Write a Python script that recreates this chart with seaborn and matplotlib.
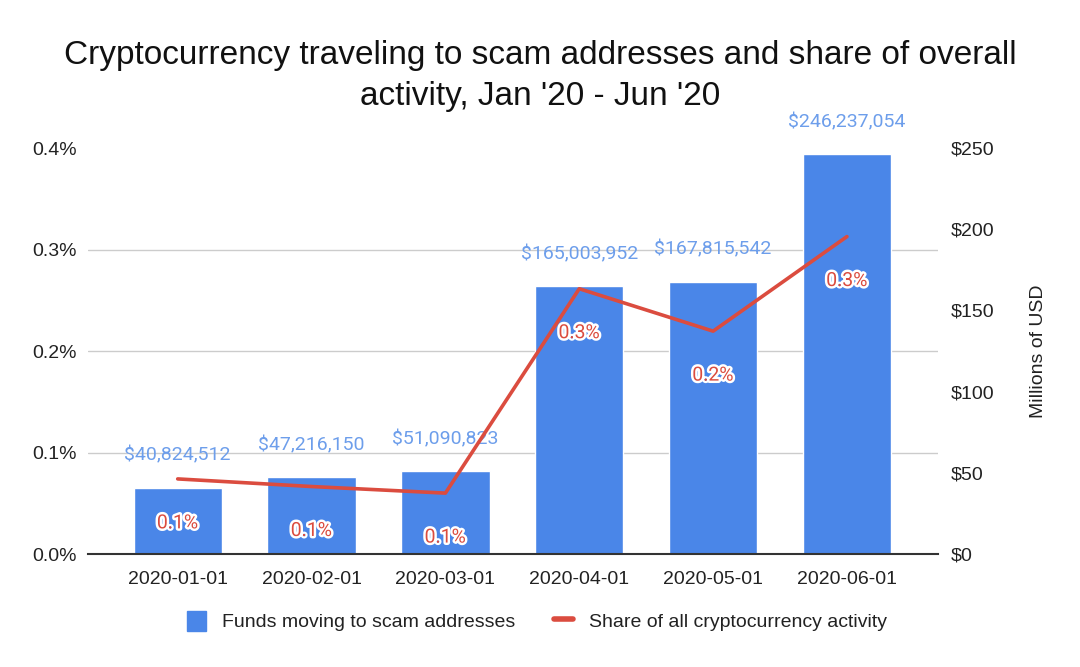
import matplotlib
matplotlib.use("Agg")
import matplotlib.pyplot as plt
import matplotlib.patheffects as pe
from matplotlib.patches import Patch
from matplotlib.lines import Line2D
from matplotlib.ticker import FuncFormatter, MultipleLocator
import seaborn as sns
import pandas as pd

months = ["2020-01-01", "2020-02-01", "2020-03-01", "2020-04-01", "2020-05-01", "2020-06-01"]
funds_usd = [40824512, 47216150, 51090823, 165003952, 167815542, 246237054]
share_pct = [0.074, 0.0665, 0.060, 0.2614, 0.2196, 0.3128]

title = "Cryptocurrency traveling to scam addresses and share of overall\nactivity, Jan '20 - Jun '20"
bar_label_name = "Funds moving to scam addresses"
line_label_name = "Share of all cryptocurrency activity"

BLUE = "#4a86e8"
LBLUE = "#6d9eeb"
RED = "#db4c3f"

sns.set_theme(style="white")
plt.rcParams["font.family"] = ["Liberation Sans", "DejaVu Sans"]

df = pd.DataFrame({"month": months, "funds_m": [v / 1e6 for v in funds_usd], "share": share_pct})
df["x"] = range(len(df))

fig = plt.figure(figsize=(10.8, 6.67), dpi=100)
ax = fig.add_axes([0.0815, 0.1694, 0.787, 0.6086])
ax2 = ax.twinx()

# bars on right axis (bottom layer)
sns.barplot(data=df, x="x", y="funds_m", ax=ax2, color=BLUE, width=0.66,
            saturation=1, native_scale=False, zorder=2)
ax2.set_ylim(0, 250)
ax2.yaxis.set_major_locator(MultipleLocator(50))
ax2.yaxis.set_minor_locator(MultipleLocator(62.5))
ax2.grid(which="minor", axis="y", color="#cccccc", linewidth=1, zorder=0)
ax2.grid(which="major", axis="y", visible=False)
ax2.set_axisbelow(True)
ax2.yaxis.set_major_formatter(FuncFormatter(lambda v, p: f"${v:.0f}"))
ax2.tick_params(axis="y", which="both", length=0, labelsize=14, colors="#222222", pad=9)
ax2.set_ylabel("Millions of USD", fontsize=14, color="#222222", labelpad=26)

for i, (v, usd) in enumerate(zip(df["funds_m"], funds_usd)):
    ax2.annotate(f"${usd:,}", (i, v), xytext=(0, 23), textcoords="offset points",
                 ha="center", va="center", color=LBLUE, fontsize=14, family="Roboto")

# line on left axis (top layer)
ax.set_zorder(ax2.get_zorder() + 1)
ax.patch.set_visible(False)
sns.lineplot(data=df, x="x", y="share", ax=ax, color=RED, linewidth=2.6)
ax.set_ylim(0, 0.4)
ax.yaxis.set_major_locator(MultipleLocator(0.1))
ax.yaxis.set_major_formatter(FuncFormatter(lambda v, p: f"{v:.1f}%"))
ax.tick_params(axis="y", length=0, labelsize=14, colors="#222222", pad=8)
ax.set_ylabel("")
ax.set_xlabel("")
ax2.set_xlabel("")
for i, v in enumerate(share_pct):
    ax.annotate(f"{v:.1f}%", (i, v), xytext=(0, -32), textcoords="offset points",
                ha="center", va="center", color=RED, fontsize=14, family="Roboto",
                path_effects=[pe.withStroke(linewidth=3.5, foreground="white")])

ax.set_xlim(-0.67, 5.68)
ax2.set_xlim(-0.67, 5.68)
ax.set_xticks(range(len(months)))
ax.set_xticklabels(months)
ax.tick_params(axis="x", length=0, labelsize=14, colors="#222222", pad=12)
ax2.tick_params(axis="x", length=0, labelbottom=False)

for a in (ax, ax2):
    for s in ("top", "left", "right", "bottom"):
        a.spines[s].set_visible(False)
ax.spines["bottom"].set_visible(True)
ax.spines["bottom"].set_color("#333333")
ax.spines["bottom"].set_linewidth(1.5)

fig.text(0.5, 0.886, title, ha="center", va="center", fontsize=24, color="#111111",
         linespacing=1.42)

handles = [Patch(facecolor=BLUE, edgecolor=BLUE, label=bar_label_name),
           Line2D([0], [0], color=RED, linewidth=4, label=line_label_name)]
fig.legend(handles=handles, loc="center", bbox_to_anchor=(0.497, 0.069), ncol=2,
           frameon=False, fontsize=14, handlelength=1.0, handleheight=1.2,
           columnspacing=2.0, handletextpad=0.8, labelcolor="#222222")

fig.savefig("out.png", dpi=100)
